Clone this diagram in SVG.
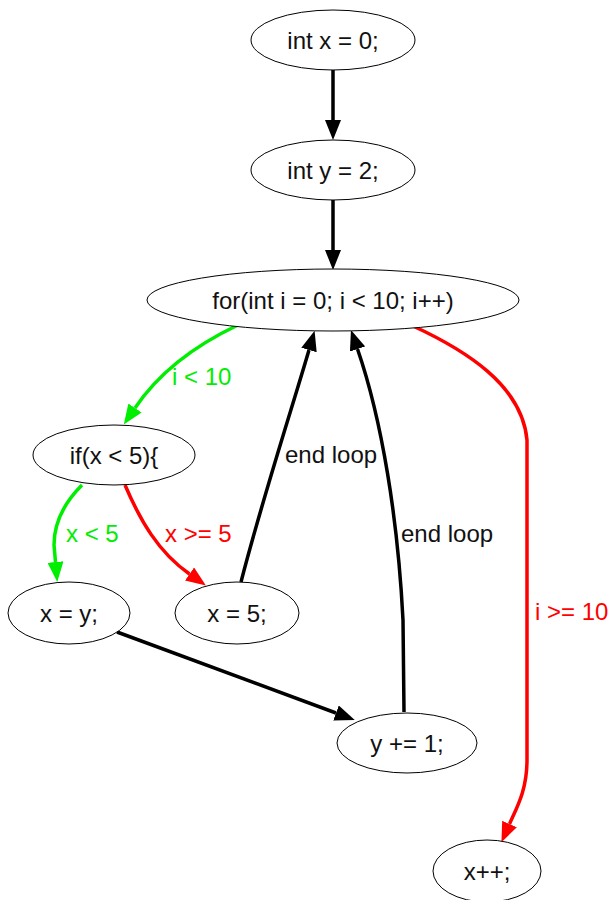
<svg xmlns="http://www.w3.org/2000/svg" width="613" height="900" viewBox="0 0 613 900">
<style>
  .node ellipse { fill: #fff; stroke: #000; stroke-width: 1; }
  .node text { font-family: "Liberation Sans", Arial, sans-serif; font-size: 24px; fill: #111; text-anchor: middle; }
  .edge { fill: none; stroke-width: 3.5; }
  .k { stroke: #000; }
  .g { stroke: #00ee00; }
  .r { stroke: #ff0000; }
  .lbl { font-family: "Liberation Sans", Arial, sans-serif; font-size: 24px; }
</style>
<defs>
  <marker id="ak" viewBox="0 0 20 16" markerWidth="20" markerHeight="16" refX="0" refY="8" markerUnits="userSpaceOnUse" orient="auto"><path d="M0,0 L20,8 L0,16 z" fill="#000"/></marker>
  <marker id="ag" viewBox="0 0 20 16" markerWidth="20" markerHeight="16" refX="0" refY="8" markerUnits="userSpaceOnUse" orient="auto"><path d="M0,0 L20,8 L0,16 z" fill="#00ee00"/></marker>
  <marker id="ar" viewBox="0 0 20 16" markerWidth="20" markerHeight="16" refX="0" refY="8" markerUnits="userSpaceOnUse" orient="auto"><path d="M0,0 L20,8 L0,16 z" fill="#ff0000"/></marker>
</defs>
<rect width="613" height="900" fill="#fff"/>
<g id="edges">
  <path class="edge k" d="M333,70 L333,120" marker-end="url(#ak)"/>
  <path class="edge k" d="M333,200 L333,250" marker-end="url(#ak)"/>
  <path class="edge g" d="M238,325 C200,343 162,368 135,408" marker-end="url(#ag)"/>
  <path class="edge g" d="M82,485 C62,505 54,525 54,545 L55.5,562" marker-end="url(#ag)"/>
  <path class="edge r" d="M125,485 C140,520 158,552 189.5,574" marker-end="url(#ar)"/>
  <path class="edge k" d="M241,582 C262,500 293,405 309,350" marker-end="url(#ak)"/>
  <path class="edge k" d="M404,712 L403,620 C398,520 382,420 357.5,349" marker-end="url(#ak)"/>
  <path class="edge k" d="M117,632 L336,713" marker-end="url(#ak)"/>
  <path class="edge r" d="M413,326 C465,350 522,385 527,440 L527,760 C527,790 517,807 509.5,824" marker-end="url(#ar)"/>
  <text class="lbl" x="172" y="385" fill="#00ee00">i &lt; 10</text>
  <text class="lbl" x="66" y="542" fill="#00ee00">x &lt; 5</text>
  <text class="lbl" x="165" y="542" fill="#ff0000">x &gt;= 5</text>
  <text class="lbl" x="285" y="463" fill="#111">end loop</text>
  <text class="lbl" x="401" y="542" fill="#111">end loop</text>
  <text class="lbl" x="535" y="620" fill="#ff0000">i &gt;= 10</text>
</g>
<g id="n1" class="node"><ellipse cx="333" cy="40" rx="82" ry="30"/><text x="333" y="48.5">int x = 0;</text></g>
<g id="n2" class="node"><ellipse cx="333" cy="170" rx="82" ry="30"/><text x="333" y="178.5">int y = 2;</text></g>
<g id="n3" class="node"><ellipse cx="333" cy="300" rx="186" ry="31"/><text x="333" y="308.5">for(int i = 0; i &lt; 10; i++)</text></g>
<g id="n4" class="node"><ellipse cx="114" cy="455" rx="81" ry="30"/><text x="114" y="463.5">if(x &lt; 5){</text></g>
<g id="n5" class="node"><ellipse cx="69" cy="613" rx="61" ry="31"/><text x="69" y="621.5">x = y;</text></g>
<g id="n6" class="node"><ellipse cx="237" cy="613" rx="62" ry="31"/><text x="237" y="621.5">x = 5;</text></g>
<g id="n7" class="node"><ellipse cx="407" cy="743" rx="70" ry="30"/><text x="407" y="751.5">y += 1;</text></g>
<g id="n8" class="node"><ellipse cx="487" cy="871" rx="54" ry="31"/><text x="487" y="879.5">x++;</text></g>
</svg>
